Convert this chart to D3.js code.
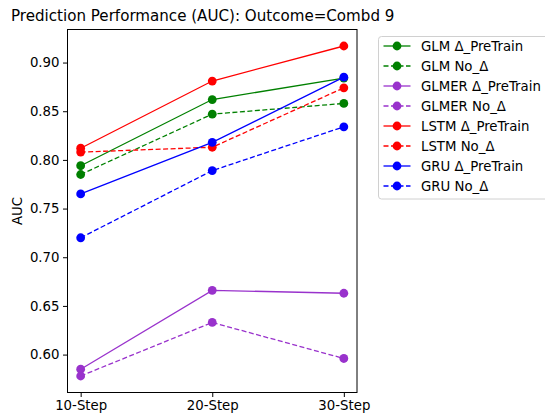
<!DOCTYPE html>
<html>
<head>
<meta charset="utf-8">
<script src="https://cdn.jsdelivr.net/npm/d3@7"></script>
<style>
  body { margin: 0; background: #fff; }
</style>
</head>
<body>
<svg width="545" height="417"></svg>
<script>
const steps = ["10-Step", "20-Step", "30-Step"];
const yTicks = [0.60, 0.65, 0.70, 0.75, 0.80, 0.85, 0.90];

const glmPre = [0.794, 0.862, 0.884];
const glmNo = [0.785, 0.847, 0.858];
const glmerPre = [0.585, 0.666, 0.663];
const glmerNo = [0.578, 0.633, 0.596];
const lstmPre = [0.812, 0.881, 0.917];
const lstmNo = [0.808, 0.813, 0.874];
const gruPre = [0.765, 0.818, 0.885];
const gruNo = [0.720, 0.789, 0.834];

const series = [
  { name: "GLM \u0394_PreTrain", values: glmPre, color: "green", dashed: false },
  { name: "GLM No_\u0394", values: glmNo, color: "green", dashed: true },
  { name: "GLMER \u0394_PreTrain", values: glmerPre, color: "darkorchid", dashed: false },
  { name: "GLMER No_\u0394", values: glmerNo, color: "darkorchid", dashed: true },
  { name: "LSTM \u0394_PreTrain", values: lstmPre, color: "red", dashed: false },
  { name: "LSTM No_\u0394", values: lstmNo, color: "red", dashed: true },
  { name: "GRU \u0394_PreTrain", values: gruPre, color: "blue", dashed: false },
  { name: "GRU No_\u0394", values: gruNo, color: "blue", dashed: true }
];

const FONT = "DejaVu Sans";
const svg = d3.select("svg").attr("font-family", FONT);
const margin = { top: 29.5, left: 67.5, right: 188, bottom: 24.5 };
const width = +svg.attr("width");
const height = +svg.attr("height");
const innerWidth = width - margin.left - margin.right;
const innerHeight = height - margin.top - margin.bottom;

// matplotlib-style 5% padding
const allVals = series.flatMap((s) => s.values);
const yMin = d3.min(allVals);
const yMax = d3.max(allVals);
const pad = (yMax - yMin) * 0.05;

const xScale = d3.scaleLinear().domain([-0.1, 2.1]).range([0, innerWidth]);
const yScale = d3.scaleLinear().domain([yMin - pad, yMax + pad]).range([innerHeight, 0]);

const g = svg.append("g").attr("transform", `translate(${margin.left},${margin.top})`);

const xAxis = d3.axisBottom(xScale)
  .tickValues([0, 1, 2])
  .tickFormat((i) => steps[i])
  .tickSize(4.5)
  .tickPadding(3.5);
const yAxis = d3.axisLeft(yScale)
  .tickValues(yTicks)
  .tickFormat(d3.format(".2f"))
  .tickSize(4.5)
  .tickPadding(3.5);

const xAxisG = g.append("g").attr("transform", `translate(0,${innerHeight})`).call(xAxis);
const yAxisG = g.append("g").call(yAxis);
[xAxisG, yAxisG].forEach((ax) => {
  ax.attr("font-family", FONT).attr("font-size", 13.3);
  ax.select(".domain").remove();
  ax.selectAll("text").attr("fill", "#000");
  ax.selectAll(".tick line").attr("stroke", "#000");
});

const line = d3.line().x((d, i) => xScale(i)).y((d) => yScale(d));

series.forEach((s) => {
  g.append("path")
    .datum(s.values)
    .attr("d", line)
    .attr("fill", "none")
    .attr("stroke", s.color)
    .attr("stroke-width", 1.3)
    .attr("stroke-dasharray", s.dashed ? "5,2.5" : null);
  g.selectAll(null)
    .data(s.values)
    .join("circle")
    .attr("cx", (d, i) => xScale(i))
    .attr("cy", (d) => yScale(d))
    .attr("r", 4.4)
    .attr("fill", s.color);
});

// frame
g.append("rect")
  .attr("width", innerWidth)
  .attr("height", innerHeight)
  .attr("fill", "none")
  .attr("stroke", "#000")
  .attr("stroke-width", 1);

svg.append("text")
  .attr("x", 11)
  .attr("y", 20.5)
  .attr("font-family", FONT)
  .attr("font-size", 15.1)
  .text("Prediction Performance (AUC): Outcome=Combd 9");

svg.append("text")
  .attr("transform", `translate(21.5,${margin.top + innerHeight / 2}) rotate(-90)`)
  .attr("text-anchor", "middle")
  .attr("font-family", FONT)
  .attr("font-size", 13.3)
  .text("AUC");

// legend (box runs off the right edge, as in the source figure)
const legend = svg.append("g").attr("transform", "translate(378.5,36.5)");
legend.append("rect")
  .attr("width", 180)
  .attr("height", 162.5)
  .attr("rx", 3)
  .attr("fill", "#fff")
  .attr("fill-opacity", 0.8)
  .attr("stroke", "#d0d0d0");

series.forEach((s, i) => {
  const row = legend.append("g").attr("transform", `translate(0,${9.5 + i * 20})`);
  row.append("line")
    .attr("x1", 5).attr("x2", 32)
    .attr("stroke", s.color)
    .attr("stroke-width", 1.3)
    .attr("stroke-dasharray", s.dashed ? "5,2.5" : null);
  row.append("circle").attr("cx", 18.5).attr("r", 4.4).attr("fill", s.color);
  row.append("text")
    .attr("x", 42.5)
    .attr("dy", "0.35em")
    .attr("font-family", FONT)
    .attr("font-size", 13.3)
    .text(s.name);
});
</script>
</body>
</html>
